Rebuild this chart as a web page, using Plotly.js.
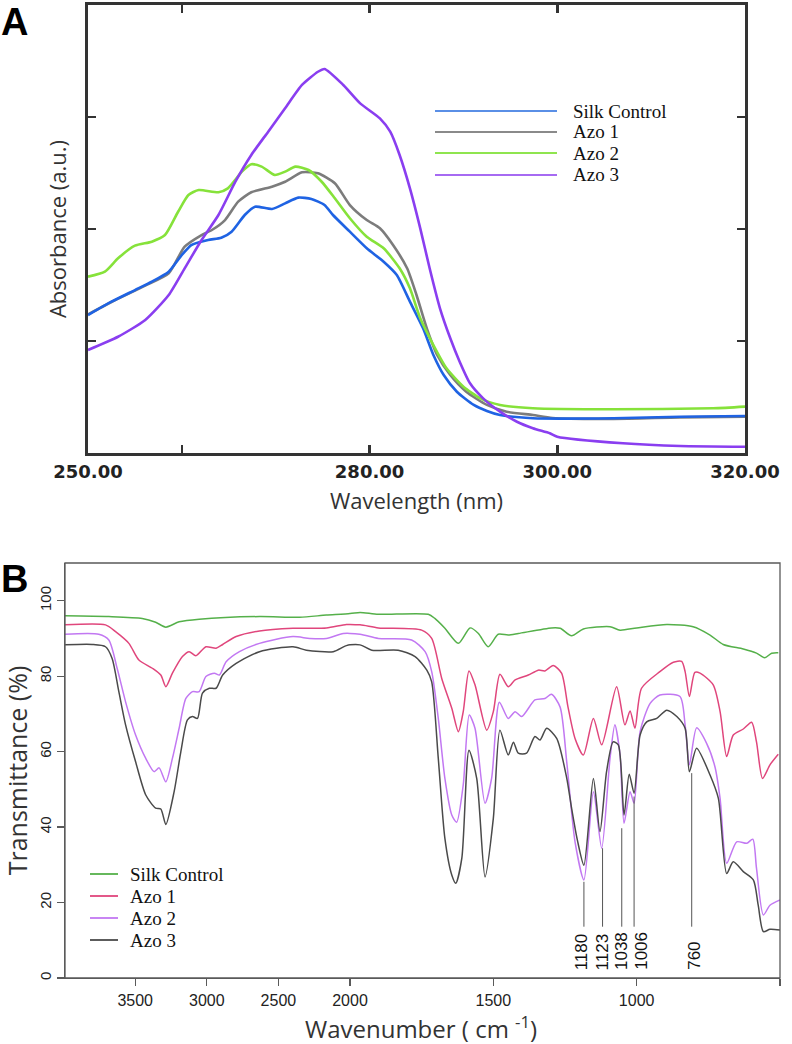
<!DOCTYPE html>
<html>
<head>
<meta charset="utf-8">
<script src="https://cdn.plot.ly/plotly-3.0.1.min.js"></script>
<style>html,body{margin:0;padding:0;background:#fff}#chart{width:792px;height:1044px}</style>
</head>
<body>
<div id="chart"></div>
<script>
// ---------- Panel A : UV-Vis absorbance ----------
const seriesNamesA = ['Silk Control', 'Azo 1', 'Azo 2', 'Azo 3'];
const wlSilk = [250,252.5,255.0,256.8,258.6,260.0,261.0,262.8,264.2,265.3,266.7,267.8,269.6,271.0,272.4,273.8,275.2,276.1,277.9,279.7,281.5,282.9,284.3,285.7,286.8,287.9,289.3,291.1,292.5,293.9,297.4,306.0,313.1,320];
const absSilk = [1.232,1.351,1.455,1.530,1.619,1.768,1.857,1.902,1.922,1.976,2.125,2.199,2.179,2.229,2.280,2.268,2.214,2.125,1.976,1.828,1.708,1.589,1.351,1.113,0.875,0.696,0.547,0.429,0.375,0.339,0.310,0.310,0.324,0.330];
const wlAzo1 = [250,252.5,256.1,258.6,260.3,262.1,263.2,264.6,266.0,267.4,269.6,271.0,272.8,274.5,276.3,277.9,279.7,281.1,282.5,284.0,285.0,286.1,287.2,288.6,290.3,292.5,294.6,297.4,299.5,306,313,320];
const absAzo1 = [1.237,1.348,1.494,1.604,1.842,1.946,1.991,2.080,2.244,2.328,2.378,2.422,2.506,2.497,2.408,2.214,2.080,2.006,1.857,1.649,1.411,1.113,0.875,0.696,0.547,0.429,0.369,0.339,0.313,0.305,0.318,0.325];
const wlAzo2 = [250,251.8,253.2,255.0,256.8,258.2,259.6,260.7,261.8,263.9,264.9,266.4,267.4,268.5,269.9,271.0,272.1,273.5,274.9,276.3,277.9,279.7,281.5,283.2,284.3,285.4,286.8,288.2,290.0,291.8,293.9,297.4,306.0,316.6,320];
const absAzo2 = [1.574,1.619,1.738,1.851,1.887,1.946,2.154,2.304,2.348,2.328,2.363,2.512,2.578,2.557,2.482,2.512,2.557,2.527,2.422,2.274,2.096,1.931,1.828,1.649,1.470,1.203,0.964,0.756,0.592,0.488,0.429,0.399,0.390,0.399,0.414];
const wlAzo3 = [250,253.2,256.1,258.6,260.3,262.1,263.9,265.7,267.4,269.2,271.0,272.8,274.5,275.2,277.2,279.0,281.1,282.2,283.2,284.3,285.4,286.4,287.5,288.6,289.6,290.7,292.1,293.9,295.7,297.4,299.2,300,307.0,313.1,320];
const absAzo3 = [0.920,1.038,1.188,1.411,1.649,1.902,2.125,2.422,2.661,2.869,3.078,3.286,3.404,3.429,3.286,3.122,2.988,2.869,2.661,2.363,2.006,1.649,1.292,1.024,0.815,0.622,0.488,0.369,0.279,0.221,0.176,0.146,0.087,0.0625,0.056];
const ticksA = [250, 280, 300, 320];
const tickTextA = ['250.00', '280.00', '300.00', '320.00'];
const minorTicksA = [260];

// ---------- Panel B : FTIR transmittance ----------
const seriesNamesB = ['Silk Control', 'Azo 1', 'Azo 2', 'Azo 3'];
const wnSilk = [3990,3684,3451,3357,3286,3193,3053,2632,2351,2165,2000,1965,1901,1727,1704,1669,1622,1581,1552,1518,1483,1448,1413,1297,1267,1227,1186,1093,1058,1000,895,803,744,698,628,582,553,529,506];
const tSilk  = [96.0,95.8,95.3,94.3,93.0,94.4,95.1,95.8,95.6,96.2,96.6,96.9,96.4,96.4,95.3,92.7,88.7,92.8,91.3,87.8,91.1,90.9,91.3,92.8,92.7,90.7,92.5,93.1,92.2,92.8,93.7,93.1,90.9,88.4,87.2,86.1,84.9,86.1,86.2];
const wnAzo1 = [3990,3707,3637,3544,3474,3380,3321,3286,3240,3170,3123,3076,3006,2935,2889,2795,2632,2398,2165,2025,1965,1901,1750,1715,1680,1645,1622,1605,1585,1564,1523,1500,1477,1448,1424,1378,1343,1320,1291,1262,1240,1215,1186,1151,1122,1070,1041,1023,1006,983,919,872,843,831,816,797,779,733,709,686,663,628,599,582,561,535,506];
const tAzo1  = [93.6,93.6,91.8,88.7,84.3,82.1,80.3,77.2,80.8,85.2,86.5,85.4,87.8,87.4,88.4,90.5,92.0,92.7,92.8,93.7,93.6,92.8,92.2,90.0,79.4,71.5,65.3,70.6,81.4,77.7,65.7,70.6,80.5,77.2,79.0,80.3,81.6,81.4,82.8,80.8,72.0,63.5,59.1,68.8,61.8,77.2,67.1,70.8,66.2,76.8,81.2,83.7,83.9,81.2,74.6,81.0,80.8,77.7,70.6,58.7,64.4,66.0,67.8,62.6,52.9,56.5,59.3];
const wnAzo2 = [3990,3754,3684,3626,3567,3497,3426,3368,3333,3286,3240,3193,3146,3100,3053,3006,2947,2912,2865,2772,2632,2398,2281,2165,2047,1965,1901,1785,1738,1715,1692,1669,1645,1628,1605,1584,1564,1529,1506,1479,1448,1424,1401,1355,1320,1297,1267,1244,1215,1184,1151,1122,1093,1076,1058,1044,1023,1009,988,953,919,849,831,816,791,756,727,709,686,651,616,595,582,558,535,500];
const tAzo2  = [91.1,91.1,89.6,82.1,73.2,64.4,58.2,54.7,55.7,52.0,58.2,66.2,74.1,75.9,75.9,79.9,80.8,80.3,83.8,86.5,88.7,90.5,90.0,90.0,91.3,91.1,90.0,89.6,86.5,81.2,68.8,52.9,43.2,41.3,51.2,69.7,66.2,46.3,52.9,73.1,68.8,70.6,69.3,73.7,74.1,75.2,71.8,57.3,36.1,26.0,49.4,34.4,58.2,67.1,59.1,41.0,49.4,46.3,65.3,72.8,75.0,74.6,67.1,56.5,66.3,62.2,56.0,47.6,30.4,36.1,35.7,36.8,29.1,16.7,19.3,20.7];
const wnAzo3 = [3990,3801,3707,3661,3614,3567,3497,3426,3357,3321,3286,3228,3181,3135,3100,3065,3030,2982,2935,2889,2795,2632,2398,2305,2117,2025,1965,1924,1832,1773,1732,1715,1692,1669,1645,1631,1610,1585,1558,1529,1500,1477,1448,1430,1413,1384,1355,1337,1314,1279,1244,1227,1207,1184,1151,1128,1105,1082,1064,1044,1026,1009,988,965,930,895,860,831,816,791,744,715,686,663,628,593,576,558,535,500];
const tAzo3  = [88.3,88.4,87.8,84.7,75.9,67.1,57.3,48.5,45.0,44.8,40.7,49.4,60.0,68.4,69.3,68.8,75.5,76.8,76.8,80.3,83.4,86.5,87.8,86.9,86.5,88.1,88.3,86.9,86.9,85.2,81.6,78.5,58.2,37.0,27.3,25.1,31.7,60.4,52.9,26.8,42.3,65.7,59.1,62.5,59.6,59.6,64.0,63.1,66.2,63.5,53.0,45.0,36.6,29.9,52.9,38.8,54.7,62.6,61.8,43.2,54.0,49.0,64.4,67.9,68.8,71.0,69.3,66.2,54.7,60.9,53.8,47.6,27.7,30.8,28.2,26.0,19.3,12.3,12.9,12.7];
const ticksBleft = [3500, 3000, 2500, 2000];
const ticksBright = [1500, 1000, 500];
const ticksBy = [0, 20, 40, 60, 80, 100];
const peakLabels = ['1180', '1123', '1038', '1006', '760'];
const peakLineAt = [1184, 1119, 1052, 1009, 808];
const peakTop = [25.5, 34.4, 39.7, 48.1, 54.3];
const peakLabelAt = [1191, 1121, 1051, 982, 797];

// ---------- styling ----------
const colorsA = {'Silk Control':'#1f63e3', 'Azo 1':'#7c7c7c', 'Azo 2':'#86e23a', 'Azo 3':'#8a3ef0'};
const legendColorsA = ['#5a8fe6', '#8a8a8a', '#8fe54f', '#a66af2'];
const colorsB = {'Silk Control':'#55b04a', 'Azo 1':'#e0467c', 'Azo 2':'#c278f2', 'Azo 3':'#4a4a4a'};

const W = 792, H = 1044;
const px = x => x / W;
const py = y => 1 - y / H;

const dataA = {
  'Silk Control': [wlSilk, absSilk],
  'Azo 1': [wlAzo1, absAzo1],
  'Azo 2': [wlAzo2, absAzo2],
  'Azo 3': [wlAzo3, absAzo3]
};
const dataB = {
  'Silk Control': [wnSilk, tSilk],
  'Azo 1': [wnAzo1, tAzo1],
  'Azo 2': [wnAzo2, tAzo2],
  'Azo 3': [wnAzo3, tAzo3]
};

const traces = [];
// draw order for panel A: Azo 1 under Silk Control
['Azo 1', 'Silk Control', 'Azo 2', 'Azo 3'].forEach(n => {
  traces.push({
    type: 'scatter', mode: 'lines', name: n,
    x: dataA[n][0], y: dataA[n][1], xaxis: 'x', yaxis: 'y',
    line: {color: colorsA[n], width: 2.6, shape: 'spline', smoothing: 0.6},
    showlegend: false
  });
});
seriesNamesB.forEach(n => {
  ['x2', 'x3'].forEach(ax => {
    traces.push({
      type: 'scatter', mode: 'lines', name: n,
      x: dataB[n][0], y: dataB[n][1], xaxis: ax, yaxis: 'y2',
      line: {color: colorsB[n], width: 1.5, shape: 'spline', smoothing: 0.7},
      showlegend: false
    });
  });
});

const shapes = [];
const annotations = [];

// panel letters
annotations.push({xref:'paper', yref:'paper', x:px(0), y:1, xanchor:'left', yanchor:'top', showarrow:false,
  borderpad:0, text:'<b>A</b>', font:{family:'Liberation Sans, Arial', size:38, color:'#000'}});
annotations.push({xref:'paper', yref:'paper', x:px(0), y:py(557), xanchor:'left', yanchor:'top', showarrow:false,
  borderpad:0, text:'<b>B</b>', font:{family:'Liberation Sans, Arial', size:38, color:'#000'}});

// legend A (manual)
const legAy = [111, 132, 153, 175];
seriesNamesA.forEach((n, i) => {
  shapes.push({type:'line', xref:'paper', yref:'paper', x0:px(435), x1:px(557), y0:py(legAy[i]), y1:py(legAy[i]),
    line:{color:legendColorsA[i], width:1.8}});
  annotations.push({xref:'paper', yref:'paper', x:px(571), y:py(legAy[i]), xanchor:'left', yanchor:'middle', showarrow:false,
    text:n, font:{family:'Liberation Serif, Times New Roman', size:19, color:'#111'}});
});

// legend B (manual)
const legBy = [874, 896, 918, 940];
seriesNamesB.forEach((n, i) => {
  shapes.push({type:'line', xref:'paper', yref:'paper', x0:px(90), x1:px(118), y0:py(legBy[i]), y1:py(legBy[i]),
    line:{color:colorsB[n], width:1.8}});
  annotations.push({xref:'paper', yref:'paper', x:px(128), y:py(legBy[i]), xanchor:'left', yanchor:'middle', showarrow:false,
    text:n, font:{family:'Liberation Serif, Times New Roman', size:19, color:'#111'}});
});

// frame for panel B
shapes.push({type:'rect', xref:'paper', yref:'paper', x0:px(65), x1:px(780), y0:py(978), y1:py(563),
  line:{color:'#5a5a5a', width:1.3}, fillcolor:'rgba(0,0,0,0)'});

// peak markers
peakLabels.forEach((lab, i) => {
  shapes.push({type:'line', xref:'x3', yref:'y2', x0:peakLineAt[i], x1:peakLineAt[i], y0:peakTop[i], y1:13.6,
    line:{color:'#555', width:1}});
  annotations.push({xref:'x3', yref:'y2', x:peakLabelAt[i], y:1.6, xanchor:'center', yanchor:'bottom', showarrow:false,
    textangle:-90, text:lab, font:{family:'Liberation Sans, Arial', size:17, color:'#111'}});
});

// panel B x title
annotations.push({xref:'paper', yref:'paper', x:px(421), y:py(1027), xanchor:'center', yanchor:'middle', showarrow:false,
  text:'Wavenumber ( cm <sup>-1</sup>)', font:{family:'Open Sans', size:24, color:'#333'}});

const axA = {
  showgrid:false, zeroline:false, showline:true, linewidth:3, linecolor:'#333',
  mirror:'ticks', ticks:'inside', ticklen:8, tickwidth:2.5, tickcolor:'#333'
};
const axB = {
  showgrid:false, zeroline:false, showline:true, linewidth:1.3, linecolor:'#5a5a5a',
  ticks:'outside', ticklen:7, tickwidth:1.3, tickcolor:'#5a5a5a',
  tickfont:{family:'Liberation Sans, Arial', size:16, color:'#222'}
};

const layout = {
  width: W, height: H, margin:{l:0, r:0, t:0, b:0},
  paper_bgcolor:'#fff', plot_bgcolor:'#fff', showlegend:false,
  xaxis: Object.assign({}, axA, {
    domain:[px(88), px(745)], anchor:'y', range:[250, 320],
    tickmode:'array', tickvals:ticksA, ticktext:tickTextA,
    minor:{tickmode:'array', tickvals:minorTicksA, ticks:'inside', ticklen:8, tickwidth:2.5, tickcolor:'#333', showgrid:false},
    tickfont:{family:'DejaVu Sans', size:18, weight:'bold', color:'#222'},
    title:{text:'Wavelength (nm)', font:{family:'Open Sans', size:22, color:'#333'}, standoff:14}
  }),
  yaxis: Object.assign({}, axA, {
    domain:[py(453), py(5)], anchor:'x', range:[0, 4],
    tickmode:'array', tickvals:[1, 2, 3], showticklabels:false,
    title:{text:'Absorbance (a.u.)', font:{family:'Open Sans', size:22, color:'#333'}, standoff:13}
  }),
  xaxis2: Object.assign({}, axB, {
    domain:[px(65), px(350)], anchor:'y2', range:[3990, 2000],
    tickmode:'array', tickvals:ticksBleft
  }),
  xaxis3: Object.assign({}, axB, {
    domain:[px(350), px(780)], anchor:'y2', range:[2000, 500],
    tickmode:'array', tickvals:ticksBright
  }),
  yaxis2: Object.assign({}, axB, {
    domain:[py(978), py(563)], anchor:'x2', range:[0, 110],
    tickmode:'array', tickvals:ticksBy, tickangle:-90,
    tickfont:{family:'Liberation Sans, Arial', size:15, color:'#222'},
    title:{text:'Transmittance (%)', font:{family:'Open Sans', size:25, color:'#333'}, standoff:6}
  }),
  shapes: shapes,
  annotations: annotations
};

Plotly.newPlot('chart', traces, layout, {staticPlot:true, displayModeBar:false});
</script>
</body>
</html>
